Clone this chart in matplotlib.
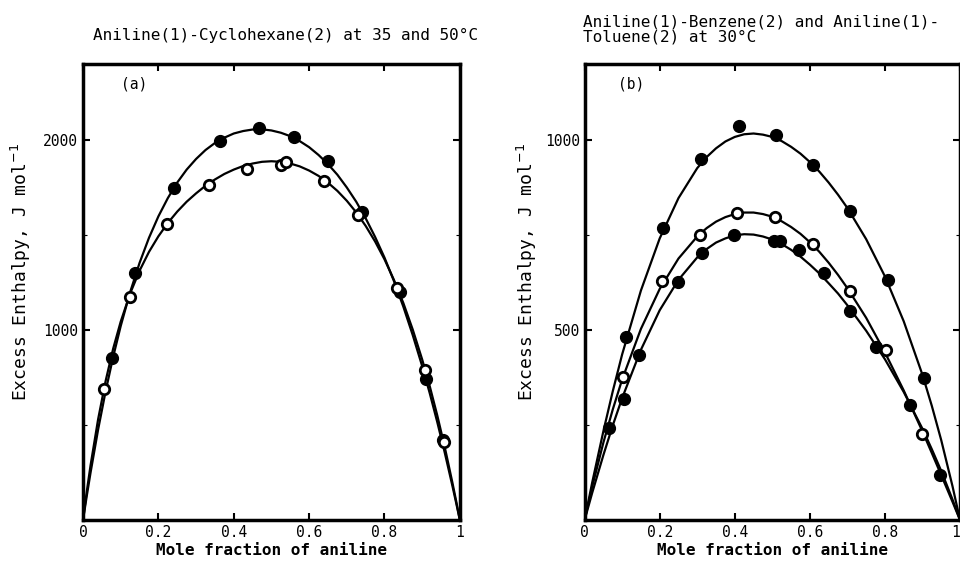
import matplotlib
matplotlib.use("Agg")
import matplotlib.pyplot as plt
from matplotlib.ticker import MultipleLocator

plt.rcParams["font.family"] = ["DejaVu Sans Mono"]

# ---- panel (a): aniline(1)-cyclohexane(2) ----
a_filled_x = [0.076, 0.138, 0.242, 0.363, 0.466, 0.559, 0.649, 0.741, 0.840, 0.909, 0.955]
a_filled_y = [855, 1298, 1749, 1995, 2062, 2018, 1888, 1621, 1200, 741, 420]
a_open_x = [0.056, 0.124, 0.223, 0.333, 0.434, 0.526, 0.538, 0.639, 0.730, 0.833, 0.907, 0.958]
a_open_y = [691, 1174, 1556, 1763, 1846, 1867, 1884, 1784, 1604, 1219, 789, 412]

# fitted curves
a_curve_x = [0, 0.01, 0.02, 0.04, 0.06, 0.08, 0.1, 0.125, 0.15, 0.175, 0.2, 0.225, 0.25,
             0.275, 0.3, 0.325, 0.35, 0.375, 0.4, 0.425, 0.45, 0.475, 0.5, 0.525, 0.55,
             0.575, 0.6, 0.625, 0.65, 0.675, 0.7, 0.725, 0.75, 0.775, 0.8, 0.825, 0.85,
             0.875, 0.9, 0.92, 0.94, 0.96, 0.98, 0.99, 1.0]
a_curve_upper = [0, 128, 250, 476, 678, 859, 1021, 1199, 1353, 1485, 1598, 1694, 1776,
                 1844, 1900, 1947, 1984, 2012, 2034, 2047, 2055, 2056, 2050, 2038, 2020,
                 1994, 1962, 1921, 1873, 1817, 1750, 1675, 1588, 1490, 1381, 1258, 1123,
                 973, 810, 668, 516, 354, 182, 92, 0]
a_curve_lower = [0, 151, 288, 530, 732, 902, 1044, 1192, 1312, 1411, 1493, 1563, 1623,
                 1675, 1719, 1759, 1792, 1821, 1844, 1863, 1876, 1885, 1888, 1885, 1876,
                 1861, 1839, 1811, 1775, 1732, 1680, 1619, 1548, 1466, 1372, 1264, 1142,
                 1002, 845, 705, 551, 383, 199, 102, 0]

# ---- panel (b): aniline(1)-benzene(2) and aniline(1)-toluene(2) ----
b_top_x = [0.110, 0.210, 0.310, 0.411, 0.510, 0.608, 0.708, 0.807, 0.904]
b_top_y = [481, 769, 949, 1037, 1013, 935, 814, 632, 374]
b_open_x = [0.103, 0.207, 0.307, 0.407, 0.506, 0.609, 0.707, 0.804, 0.900]
b_open_y = [376, 628, 749, 808, 798, 726, 603, 446, 225]
b_low_x = [0.066, 0.106, 0.146, 0.250, 0.313, 0.399, 0.505, 0.520, 0.571, 0.639, 0.708,
           0.776, 0.866, 0.948]
b_low_y = [241, 319, 433, 626, 702, 749, 734, 735, 710, 651, 551, 455, 302, 119]

b_curve_x = [0, 0.02, 0.05, 0.075, 0.1, 0.15, 0.2, 0.25, 0.3, 0.325, 0.35, 0.375, 0.4,
             0.425, 0.45, 0.475, 0.5, 0.525, 0.55, 0.575, 0.6, 0.625, 0.65, 0.675, 0.7,
             0.75, 0.8, 0.85, 0.9, 0.925, 0.95, 0.98, 1.0]
b_curve_top = [0, 98, 234, 339, 436, 604, 741, 847, 926, 955, 978, 996, 1008,
               1015, 1017, 1014, 1008, 997, 982, 964, 942, 917, 888, 856, 821,
               739, 641, 523, 382, 300, 210, 89, 0]
b_curve_mid = [0, 87, 204, 291, 370, 503, 608, 688, 746, 768, 785, 797, 805,
               809, 809, 805, 798, 786, 771, 753, 731, 706, 677, 645, 610,
               532, 441, 341, 233, 176, 118, 48, 0]
b_curve_low = [0, 71, 171, 249, 321, 448, 552, 632, 691, 713, 730, 741, 749,
               752, 751, 746, 738, 726, 711, 693, 672, 649, 623, 596, 565,
               498, 423, 337, 240, 186, 129, 54, 0]

fig = plt.figure(figsize=(9.6, 5.66), dpi=100)
ax1 = fig.add_axes([0.0865, 0.0813, 0.3925, 0.8057])
ax2 = fig.add_axes([0.609, 0.0813, 0.391, 0.8057])

ms = 8.5
lw = 1.6


def style_axes(ax):
    ax.set_xlim(0, 1)
    ax.set_xticks([0, 0.2, 0.4, 0.6, 0.8, 1.0])
    ax.set_xticklabels(["0", "0.2", "0.4", "0.6", "0.8", "1"])
    ax.tick_params(which="both", direction="in", top=True, right=True,
                   labelsize=10.5, width=1.5)
    ax.tick_params(which="major", length=5)
    ax.tick_params(which="minor", length=3, width=0.8)
    for s in ax.spines.values():
        s.set_linewidth(2.5)
    ax.set_xlabel("Mole fraction of aniline", fontsize=11.5, fontweight="bold", labelpad=2)
    ax.set_ylabel("Excess Enthalpy, J mol$^{-1}$", fontsize=13)


# panel (a)
ax1.plot(a_curve_x, a_curve_upper, color="black", lw=lw, zorder=2)
ax1.plot(a_curve_x, a_curve_lower, color="black", lw=lw, zorder=2)
ax1.plot(a_filled_x, a_filled_y, "o", ms=ms, color="black", zorder=3)
ax1.plot(a_open_x, a_open_y, "o", ms=ms - 1, mfc="white", mec="black", mew=2, zorder=4)
style_axes(ax1)
ax1.set_ylim(0, 2400)
ax1.set_yticks([1000, 2000])
ax1.yaxis.set_minor_locator(MultipleLocator(500))
ax1.yaxis.set_label_coords(-0.134, 0.544)
ax1.text(0.1, 0.955, "(a)", transform=ax1.transAxes, fontsize=10.5, va="center")

# panel (b)
ax2.plot(b_curve_x, b_curve_top, color="black", lw=lw, zorder=2)
ax2.plot(b_curve_x, b_curve_mid, color="black", lw=lw, zorder=2)
ax2.plot(b_curve_x, b_curve_low, color="black", lw=lw, zorder=2)
ax2.plot(b_top_x, b_top_y, "o", ms=ms, color="black", zorder=3)
ax2.plot(b_low_x, b_low_y, "o", ms=ms, color="black", zorder=3)
ax2.plot(b_open_x, b_open_y, "o", ms=ms - 1, mfc="white", mec="black", mew=2, zorder=4)
style_axes(ax2)
ax2.set_ylim(0, 1200)
ax2.set_yticks([500, 1000])
ax2.yaxis.set_minor_locator(MultipleLocator(250))
ax2.yaxis.set_label_coords(-0.121, 0.544)
ax2.get_xticklabels()[-1].set_horizontalalignment("right")
ax2.text(0.09, 0.955, "(b)", transform=ax2.transAxes, fontsize=10.5, va="center")

fig.text(93 / 960, 1 - 35 / 566, "Aniline(1)-Cyclohexane(2) at 35 and 50\u00b0C",
         fontsize=11.5, va="center", ha="left")
fig.text(583 / 960, 1 - 29.5 / 566, "Aniline(1)-Benzene(2) and Aniline(1)-\nToluene(2) at 30\u00b0C",
         fontsize=11.5, va="center", ha="left", linespacing=1.05)

fig.savefig("out.png", dpi=100)
